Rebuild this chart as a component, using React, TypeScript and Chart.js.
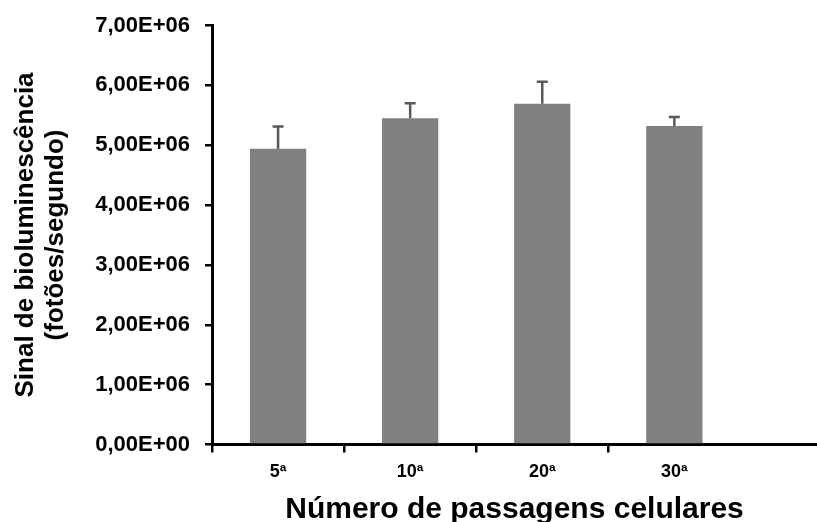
import React, { useEffect, useRef } from "react";
import { Chart, registerables } from "chart.js";

Chart.register(...registerables);

// ---- data ----
const categories: string[] = ["5ª", "10ª", "20ª", "30ª"];
const values: number[] = [4.94e6, 5.45e6, 5.69e6, 5.32e6];
const errors: number[] = [0.37e6, 0.25e6, 0.37e6, 0.15e6];
const yTickValues: number[] = [0, 1e6, 2e6, 3e6, 4e6, 5e6, 6e6, 7e6];
const yTickLabels: string[] = [
  "0,00E+00",
  "1,00E+06",
  "2,00E+06",
  "3,00E+06",
  "4,00E+06",
  "5,00E+06",
  "6,00E+06",
  "7,00E+06",
];
const boundaryTicks: number[] = [0, 1, 2, 3];
const xTitle = "Número de passagens celulares";
const yTitle: string[] = ["Sinal de bioluminescência", "(fotões/segundo)"];

const X_MAX = 4.58;
const FONT = "'Liberation Sans', Arial, Helvetica, sans-serif";

const errorBarPlugin = {
  id: "errorBars",
  afterDatasetsDraw(chart: any) {
    const xs = chart.scales.x;
    const ys = chart.scales.y;
    const ctx = chart.ctx;
    ctx.save();
    ctx.strokeStyle = "#595959";
    ctx.lineWidth = 2.5;
    values.forEach((v, i) => {
      const x = xs.getPixelForValue(i + 0.5);
      const yBase = ys.getPixelForValue(v);
      const yTop = ys.getPixelForValue(v + errors[i]);
      ctx.beginPath();
      ctx.moveTo(x, yBase);
      ctx.lineTo(x, yTop);
      ctx.moveTo(x - 5.5, yTop);
      ctx.lineTo(x + 5.5, yTop);
      ctx.stroke();
    });
    ctx.restore();
  },
};

export default function App() {
  const ref = useRef<HTMLCanvasElement | null>(null);
  useEffect(() => {
    document.body.style.margin = "0";
    const canvas = ref.current;
    if (!canvas) return;
    const chart = new Chart(canvas, {
      type: "bar",
      data: {
        datasets: [
          {
            data: values.map((v, i) => ({ x: i + 0.5, y: v })),
            backgroundColor: "#808080",
            borderWidth: 0,
            categoryPercentage: 1,
            barPercentage: 0.426,
            xAxisID: "x",
            yAxisID: "y",
          } as any,
        ],
      },
      options: {
        animation: false,
        responsive: false,
        maintainAspectRatio: false,
        layout: { padding: { top: 22.5, right: 0, left: 0, bottom: 0 } },
        plugins: {
          legend: { display: false },
          tooltip: { enabled: false },
        },
        scales: {
          x: {
            type: "linear",
            position: "bottom",
            weight: 0,
            offset: false,
            min: 0,
            max: X_MAX,
            afterBuildTicks: (s: any) => {
              s.ticks = boundaryTicks.map((v) => ({ value: v }));
            },
            ticks: { display: false },
            grid: {
              offset: false,
              drawOnChartArea: false,
              drawTicks: true,
              tickLength: 8,
              color: "#000",
              lineWidth: 2.5,
            },
            border: { display: true, color: "#000", width: 3 },
          },
          xl: {
            type: "linear",
            position: "bottom",
            weight: 1,
            offset: false,
            min: 0,
            max: X_MAX,
            afterBuildTicks: (s: any) => {
              s.ticks = categories.map((_, i) => ({ value: i + 0.5 }));
            },
            ticks: {
              callback: (_v: any, i: number) => categories[i],
              font: { family: FONT, size: 18, weight: "bold" },
              color: "#000",
              padding: 8.4,
              autoSkip: false,
              maxRotation: 0,
            },
            grid: { display: false, drawTicks: false, offset: false },
            border: { display: false },
            title: {
              display: true,
              text: xTitle,
              font: { family: FONT, size: 30, weight: "bold", lineHeight: 1.2 },
              color: "#000",
              padding: { top: 0.6, bottom: -5.5 },
            },
          },
          y: {
            type: "linear",
            position: "left",
            min: 0,
            max: 7e6,
            afterBuildTicks: (s: any) => {
              s.ticks = yTickValues.map((v) => ({ value: v }));
            },
            ticks: {
              callback: (_v: any, i: number) => yTickLabels[i],
              font: { family: FONT, size: 22, weight: "bold", lineHeight: 0.95 },
              color: "#000",
              padding: 15,
            },
            grid: {
              drawOnChartArea: false,
              drawTicks: true,
              tickLength: 7,
              color: "#000",
              lineWidth: 2.5,
            },
            border: { display: true, color: "#000", width: 3 },
            title: {
              display: true,
              text: yTitle,
              font: { family: FONT, size: 26, weight: "bold", lineHeight: 1.16 },
              color: "#000",
              padding: { top: 10.9, bottom: 9 },
            },
          },
        },
      } as any,
      plugins: [errorBarPlugin],
    });
    return () => chart.destroy();
  }, []);
  return (
    <div style={{ width: 817, height: 522 }}>
      <canvas ref={ref} width={817} height={522} style={{ display: "block" }} />
    </div>
  );
}
